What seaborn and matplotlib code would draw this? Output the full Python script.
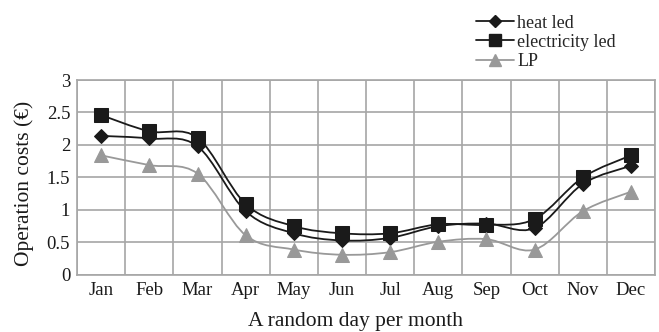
import numpy as np
import pandas as pd
import matplotlib
matplotlib.use("Agg")
import matplotlib.pyplot as plt
from matplotlib.path import Path
from matplotlib.patches import PathPatch
from matplotlib.lines import Line2D
import seaborn as sns

months = ["Jan", "Feb", "Mar", "Apr", "May", "Jun",
          "Jul", "Aug", "Sep", "Oct", "Nov", "Dec"]
heat_led = [2.14, 2.10, 1.98, 0.98, 0.64, 0.53, 0.57, 0.75, 0.79, 0.72, 1.40, 1.68]
electricity_led = [2.46, 2.21, 2.11, 1.09, 0.75, 0.64, 0.64, 0.78, 0.77, 0.86, 1.50, 1.84]
lp = [1.84, 1.69, 1.56, 0.61, 0.39, 0.31, 0.35, 0.51, 0.55, 0.39, 0.98, 1.28]

sns.set_theme(style="white")
plt.rcParams["font.family"] = ["Liberation Serif", "DejaVu Serif"]

fig = plt.figure(figsize=(6.59, 3.32), dpi=100)
ax = fig.add_axes([0.117, 0.172, 0.877, 0.587])

grid_col = "#a6a6a6"
text_col = "#1a1a1a"
series = [
    ("heat led", heat_led, "D", 7.5, "#1a1a1a"),
    ("electricity led", electricity_led, "s", 9.5, "#1a1a1a"),
    ("LP", lp, "^", 9.5, "#999999"),
]


def smooth_path(xs, ys):
    """Cubic Bezier through the points (Catmull-Rom style tangents)."""
    pts = np.column_stack([xs, ys]).astype(float)
    n = len(pts)
    verts = [pts[0]]
    codes = [Path.MOVETO]
    for i in range(n - 1):
        p0 = pts[i - 1] if i > 0 else pts[i]
        p1 = pts[i]
        p2 = pts[i + 1]
        p3 = pts[i + 2] if i + 2 < n else pts[i + 1]
        c1 = p1 + (p2 - p0) / 6.0
        c2 = p2 - (p3 - p1) / 6.0
        verts += [c1, c2, p2]
        codes += [Path.CURVE4] * 3
    return Path(verts, codes)


x = np.arange(len(months))
handles = []
for name, vals, mk, ms, col in series:
    ax.add_patch(PathPatch(smooth_path(x, vals), fill=False, edgecolor=col,
                           lw=1.3, zorder=3))
    df = pd.DataFrame({"month": x, "cost": vals})
    sns.lineplot(data=df, x="month", y="cost", ax=ax, marker=mk, markersize=ms,
                 color=col, markeredgecolor=col, linewidth=0, zorder=4)
    handles.append(Line2D([], [], color=col, lw=1.3, marker=mk,
                          markersize=ms * 0.85, markeredgecolor=col, label=name))

ax.set_xlim(-0.5, 11.5)
ax.set_ylim(0, 3)
ax.set_xticks(x)
ax.set_xticklabels(months)
ax.set_xticks(np.arange(-0.5, 12, 1), minor=True)
ax.set_yticks([0, 0.5, 1, 1.5, 2, 2.5, 3])
ax.set_yticklabels(["0", "0.5", "1", "1.5", "2", "2.5", "3"])
ax.grid(False)
ax.grid(True, which="minor", axis="x", color=grid_col, lw=1.2)
ax.grid(True, which="major", axis="y", color=grid_col, lw=1.2)
ax.tick_params(which="both", length=0, labelsize=13.5, colors=text_col, pad=5)
for sp in ax.spines.values():
    sp.set_color(grid_col)
    sp.set_linewidth(1.2)

ax.set_xlabel("A random day per month", fontsize=15.5, color=text_col)
ax.xaxis.set_label_coords(0.481, -0.19)
ax.set_ylabel("Operation costs (€)", fontsize=15.5, color=text_col)
ax.yaxis.set_label_coords(-0.075, 0.47)

fig.legend(handles=handles, loc="upper left", bbox_to_anchor=(0.712, 0.978),
           frameon=False, fontsize=13, handlelength=2.1, handletextpad=0.15,
           labelspacing=0.12, borderaxespad=0)

fig.savefig("out.png", dpi=100)
